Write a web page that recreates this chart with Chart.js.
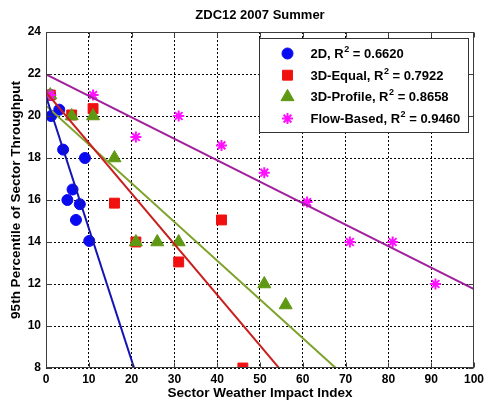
<!DOCTYPE html>
<html>
<head>
<meta charset="utf-8">
<script src="https://cdn.jsdelivr.net/npm/chart.js@4.4.1/dist/chart.umd.min.js"></script>
<style>
  html, body { margin: 0; padding: 0; background: #ffffff; }
  #wrap { width: 488px; height: 402px; }
</style>
</head>
<body>
<div id="wrap"><canvas id="chart" width="488" height="402"></canvas></div>
<script>
// Text
const chartTitle = 'ZDC12 2007 Summer';
const xAxisTitle = 'Sector Weather Impact Index';
const yAxisTitle = '95th Percentile of Sector Throughput';

// Tick labels
const xTicks = [0, 10, 20, 30, 40, 50, 60, 70, 80, 90, 100];
const yTicks = [8, 10, 12, 14, 16, 18, 20, 22, 24];

// Series names (with R-squared of each linear fit)
const seriesLabels = [
  '2D, R² = 0.6620',
  '3D-Equal, R² = 0.7922',
  '3D-Profile, R² = 0.8658',
  'Flow-Based, R² = 0.9460'
];

// 2D
const x2D = [1, 1.2, 3.1, 4, 9.1, 6.2, 5, 7.9, 7, 10.1];
const y2D = [21, 20, 20.3, 18.4, 18, 16.5, 16, 15.8, 15.05, 14.05];

// 3D-Equal
const x3DEqual = [1, 6, 11, 16, 21, 31, 41, 46];
const y3DEqual = [21, 20.05, 20.35, 15.85, 14, 13.05, 15.05, 8];

// 3D-Profile
const x3DProfile = [1, 6, 11, 16, 21, 26, 31, 51, 56];
const y3DProfile = [21, 20, 20, 18, 14, 14, 14, 12, 11];

// Flow-Based
const xFlow = [1, 11, 21, 31, 41, 51, 61, 71, 81, 91];
const yFlow = [21, 21, 19, 20, 18.6, 17.3, 15.9, 14, 14, 12];

const FONT = "'Liberation Sans', Arial, Helvetica, sans-serif";

function pairs(xs, ys) {
  return xs.map((x, i) => ({ x: x, y: ys[i] }));
}

// least-squares straight line through a series, spanning the x axis range
function fitLine(xs, ys) {
  const n = xs.length;
  const mx = xs.reduce((s, v) => s + v, 0) / n;
  const my = ys.reduce((s, v) => s + v, 0) / n;
  let sxy = 0, sxx = 0;
  for (let i = 0; i < n; i++) {
    sxy += (xs[i] - mx) * (ys[i] - my);
    sxx += (xs[i] - mx) * (xs[i] - mx);
  }
  const slope = sxy / sxx;
  const intercept = my - slope * mx;
  const x0 = xTicks[0], x1 = xTicks[xTicks.length - 1];
  return [{ x: x0, y: intercept + slope * x0 }, { x: x1, y: intercept + slope * x1 }];
}

const seriesStyles = [
  { pointStyle: 'circle',   radius: 5.5, fill: '#0a0af0', stroke: '#0a0af0', bw: 1, line: '#1414b4', order: 4 },
  { pointStyle: 'rect',     radius: 7,   fill: '#f01010', stroke: '#f01010', bw: 1, line: '#c8201e', order: 3 },
  { pointStyle: 'triangle', radius: 7.5, fill: '#5f9812', stroke: '#5f9812', bw: 1, line: '#7ea22a', order: 2 },
  { pointStyle: 'star',     radius: 5.5, fill: '#ff10ff', stroke: '#ff10ff', bw: 2, line: '#a0209c', order: 1 }
];

const seriesData = [
  [x2D, y2D],
  [x3DEqual, y3DEqual],
  [x3DProfile, y3DProfile],
  [xFlow, yFlow]
];

const datasets = [];
seriesData.forEach(([xs, ys], i) => {
  const st = seriesStyles[i];
  datasets.push({
    label: seriesLabels[i],
    isSeries: true,
    data: pairs(xs, ys),
    showLine: false,
    pointStyle: st.pointStyle,
    pointRadius: st.radius,
    pointBackgroundColor: st.fill,
    pointBorderColor: st.stroke,
    pointBorderWidth: st.bw,
    order: st.order,
    clip: 0
  });
});
seriesData.forEach(([xs, ys], i) => {
  const st = seriesStyles[i];
  datasets.push({
    label: seriesLabels[i] + ' fit',
    data: fitLine(xs, ys),
    showLine: true,
    borderColor: st.line,
    borderWidth: 2,
    pointRadius: 0,
    order: 0,
    clip: 0
  });
});

// frame, inward tick marks, legend and title
const decorations = {
  id: 'decorations',
  afterDatasetsDraw(chart) {
    const { ctx, chartArea: a, scales: { x, y } } = chart;
    ctx.save();
    ctx.strokeStyle = '#3c3c3c';
    ctx.lineWidth = 1;
    ctx.setLineDash([]);
    const L = Math.round(a.left) + 0.5, R = Math.round(a.right) - 0.5;
    const T = Math.round(a.top) + 0.5, B = Math.round(a.bottom) - 0.5;
    ctx.strokeRect(L, T, R - L, B - T);
    const tl = 5;
    ctx.beginPath();
    xTicks.forEach(v => {
      const px = Math.round(x.getPixelForValue(v)) + 0.5;
      ctx.moveTo(px, T); ctx.lineTo(px, T + tl);
      ctx.moveTo(px, B); ctx.lineTo(px, B - tl);
    });
    yTicks.forEach(v => {
      const py = Math.round(y.getPixelForValue(v)) + 0.5;
      ctx.moveTo(L, py); ctx.lineTo(L + tl, py);
      ctx.moveTo(R, py); ctx.lineTo(R - tl, py);
    });
    ctx.stroke();
    ctx.restore();
  },
  afterDraw(chart) {
    const { ctx, chartArea: a } = chart;
    ctx.save();

    // title
    ctx.fillStyle = '#000000';
    ctx.font = 'bold 13px ' + FONT;
    ctx.textAlign = 'center';
    ctx.textBaseline = 'middle';
    ctx.fillText(chartTitle, (a.left + a.right) / 2, 15);

    // legend
    const items = chart.data.datasets.filter(d => d.isSeries);
    const bw = 209, bh = 94;
    const bx = Math.round(a.right - 6 - bw) + 0.5, by = Math.round(a.top + 6) + 0.5;
    ctx.fillStyle = '#ffffff';
    ctx.fillRect(bx, by, bw, bh);
    ctx.strokeStyle = '#333333';
    ctx.lineWidth = 1;
    ctx.strokeRect(bx, by, bw, bh);

    items.forEach((d, i) => {
      const cy = by + 15 + i * 21.7;
      const mx = bx + 28;
      ctx.fillStyle = d.pointBackgroundColor;
      ctx.strokeStyle = d.pointBorderColor;
      ctx.lineWidth = d.pointBorderWidth;
      Chart.helpers.drawPoint(ctx, { pointStyle: d.pointStyle, radius: d.pointRadius, rotation: 0, borderWidth: d.pointBorderWidth }, mx, cy);

      const parts = d.label.split('²');
      let tx = bx + 51;
      ctx.fillStyle = '#000000';
      ctx.textAlign = 'left';
      ctx.textBaseline = 'middle';
      ctx.font = 'bold 13px ' + FONT;
      ctx.fillText(parts[0], tx, cy + 1);
      tx += ctx.measureText(parts[0]).width;
      ctx.font = 'bold 9px ' + FONT;
      ctx.fillText('2', tx + 0.5, cy - 4);
      tx += ctx.measureText('2').width + 0.5;
      ctx.font = 'bold 13px ' + FONT;
      ctx.fillText(parts[1], tx, cy + 1);
    });
    ctx.restore();
  }
};

Chart.defaults.font.family = FONT;
Chart.defaults.color = '#000000';

// dotted grid lines on every tick
const gridOpts = { display: true, drawTicks: false, color: '#000000', lineWidth: 1 };
const borderOpts = { display: false, dash: [2, 2] };

new Chart(document.getElementById('chart'), {
  type: 'scatter',
  data: { datasets: datasets },
  options: {
    responsive: false,
    devicePixelRatio: 1,
    animation: false,
    events: [],
    layout: { padding: { top: 32, right: 11, left: 0, bottom: 0 } },
    plugins: {
      legend: { display: false },
      tooltip: { enabled: false },
      title: { display: false }
    },
    scales: {
      x: {
        type: 'linear',
        min: xTicks[0],
        max: xTicks[xTicks.length - 1],
        afterBuildTicks: s => { s.ticks = xTicks.map(v => ({ value: v })); },
        afterFit: s => { s.height = 34; },
        grid: gridOpts,
        border: borderOpts,
        ticks: {
          autoSkip: false, maxRotation: 0, padding: 4,
          color: '#000000',
          font: { size: 12, weight: 'bold' }
        },
        title: {
          display: true, text: xAxisTitle, color: '#000000',
          font: { size: 13.5, weight: 'bold' },
          padding: { top: 0, bottom: 1 }
        }
      },
      y: {
        type: 'linear',
        min: yTicks[0],
        max: yTicks[yTicks.length - 1],
        afterBuildTicks: s => { s.ticks = yTicks.map(v => ({ value: v })); },
        afterFit: s => { s.width = 46; },
        grid: gridOpts,
        border: borderOpts,
        ticks: {
          autoSkip: false, padding: 5,
          color: '#000000',
          font: { size: 12, weight: 'bold' }
        },
        title: {
          display: true, text: yAxisTitle, color: '#000000',
          font: { size: 13.5, weight: 'bold' },
          padding: { top: 8, bottom: 0 }
        }
      }
    }
  },
  plugins: [decorations]
});
</script>
</body>
</html>
